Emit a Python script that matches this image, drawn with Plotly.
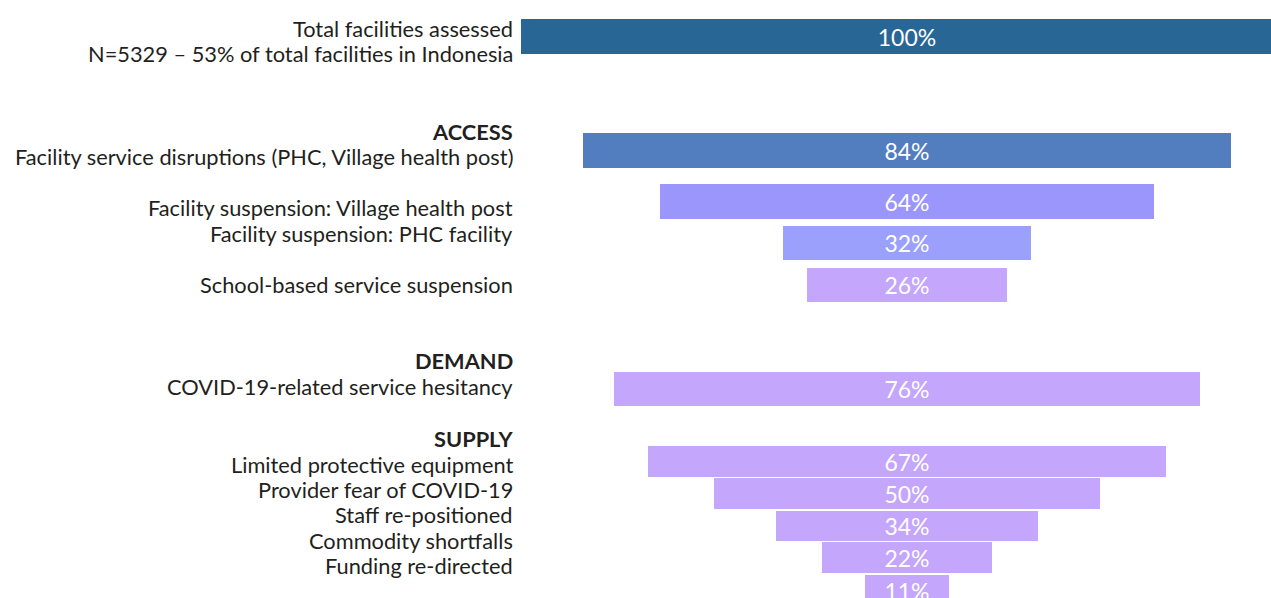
import plotly.graph_objects as go

# percentages shown on the funnel bars, top to bottom
values = [100, 84, 64, 32, 26, 76, 67, 50, 34, 22, 11]
bar_colors = ['#286696', '#527dbf', '#9b96fc', '#9aa0fc'] + ['#c4a6fc'] * 7

# row labels on the left (headers in bold)
row_labels = [
    'Total facilities assessed',
    'N=5329 – 53% of total facilities in Indonesia',
    '<b>ACCESS</b>',
    'Facility service disruptions (PHC, Village health post)',
    'Facility suspension: Village health post',
    'Facility suspension: PHC facility',
    'School-based service suspension',
    '<b>DEMAND</b>',
    'COVID-19-related service hesitancy',
    '<b>SUPPLY</b>',
    'Limited protective equipment',
    'Provider fear of COVID-19',
    'Staff re-positioned',
    'Commodity shortfalls',
    'Funding re-directed',
]

# layout: vertical placement in pixels (y axis runs top->bottom)
bar_y = [36.5, 150.5, 201.5, 243, 285, 389, 461.5, 493.5, 526, 557.5, 590.5]
bar_h = [35, 35, 35, 34, 34, 34, 31, 31, 30, 31, 31]
label_y = [28, 53, 131, 156, 207, 233, 284, 360, 386, 438, 464, 489, 514, 540, 565]

W, H = 1271, 598
center_px = 907
px_per_pct = 7.72

fig = go.Figure()
fig.add_trace(go.Bar(
    y=bar_y,
    x=values,
    base=[-v / 2 for v in values],
    width=bar_h,
    orientation='h',
    marker=dict(color=bar_colors, line=dict(width=0)),
    text=[f'{v}%' for v in values],
    textposition='inside',
    insidetextanchor='middle',
    constraintext='none',
    textfont=dict(family='Lato', size=23, color='white'),
    hoverinfo='skip',
))

for txt, yy in zip(row_labels, label_y):
    fig.add_annotation(
        x=515 / W, xref='paper', xanchor='right',
        y=yy, yref='y', yanchor='middle',
        text=txt, showarrow=False,
        font=dict(family='Lato', size=21.8, color='#231f20'),
    )

fig.update_xaxes(range=[-center_px / px_per_pct, (W - center_px) / px_per_pct],
                 visible=False, fixedrange=True)
fig.update_yaxes(range=[H, 0], visible=False, fixedrange=True)
fig.update_layout(
    width=W, height=H,
    margin=dict(l=0, r=0, t=0, b=0),
    plot_bgcolor='white', paper_bgcolor='white',
    showlegend=False,
    bargap=0,
)

# drop the default page margin so the figure fills the window
fig.write_html("out.html", config={'displayModeBar': False},
               post_script="document.body.style.margin='0';document.body.style.overflow='hidden';")
